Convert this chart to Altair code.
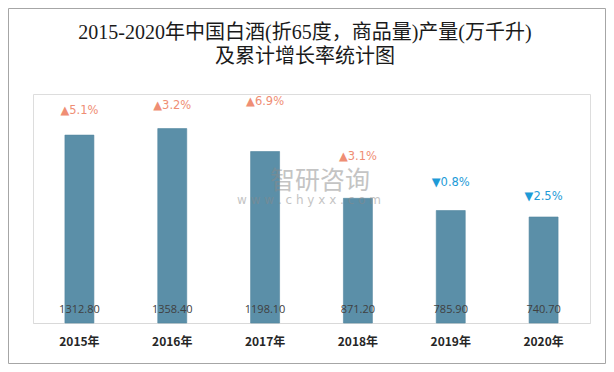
import altair as alt
import pandas as pd

years = ["2015年", "2016年", "2017年", "2018年", "2019年", "2020年"]
production = [1312.80, 1358.40, 1198.10, 871.20, 785.90, 740.70]
growth = [5.1, 3.2, 6.9, 3.1, -0.8, -2.5]
# height of the (hidden) helper series that carries the growth labels
label_y = [1480, 1517, 1543, 1161, 976, 878]
title_lines = ["2015-2020年中国白酒(折65度，商品量)产量(万千升)", "及累计增长率统计图"]

df = pd.DataFrame({
    "year": years,
    "prod": production,
    "growth": growth,
    "ly": label_y,
})
df["prod_label"] = [f"{v:.2f}" for v in production]
df["g_label"] = [("▲" if g > 0 else "▼") + f"{abs(g):.1f}%" for g in growth]
df["dir"] = ["up" if g > 0 else "down" for g in growth]

W, H = 557, 229
PL, PT, PR, PB = 25, 86, 16, 41

x = alt.X("year:N", sort=years, title=None,
          scale=alt.Scale(paddingInner=0, paddingOuter=0),
          axis=alt.Axis(labelAngle=0, ticks=False, domainColor="#d9d9d9",
                        labelFont="Noto Sans CJK SC", labelFontWeight="bold",
                        labelFontSize=12, labelColor="#262626", labelPadding=13))
yscale = alt.Scale(domain=[0, 1600])

base = alt.Chart(df)

bars = base.mark_bar(size=29, color="#5B8FA8", stroke="#5386A0",
                     strokeWidth=0.6).encode(
    x=x,
    y=alt.Y("prod:Q", scale=yscale, axis=None),
)

vals = base.mark_text(font="Open Sans", fontSize=11, color="#404040",
                      baseline="middle", dy=-13).encode(
    x=x,
    y=alt.Y("zero:Q", scale=yscale, axis=None),
    text="prod_label:N",
).transform_calculate(zero="0")

glabels = base.mark_text(font="DejaVu Sans", fontSize=11.5, baseline="middle").encode(
    x=x,
    y=alt.Y("ly:Q", scale=yscale, axis=None),
    text="g_label:N",
    color=alt.Color("dir:N", scale=alt.Scale(domain=["up", "down"],
                                             range=["#EF8E74", "#1E9BD7"]),
                    legend=None),
)

one = alt.Data(values=[{"a": 1}])

wm1 = alt.Chart(one).mark_text(text="智研咨询", font="Noto Sans CJK SC",
                               fontSize=25, color="#8a8a8a", opacity=0.5,
                               baseline="middle", align="left").encode(
    x=alt.value(237), y=alt.value(87))
wm2 = alt.Chart(one).mark_text(text="w w w . c h y x x . c o m", font="DejaVu Sans",
                               fontSize=12, color="#8a8a8a", opacity=0.5,
                               baseline="middle", align="left").encode(
    x=alt.value(204), y=alt.value(106))

t1 = alt.Chart(one).mark_text(text=title_lines[0],
                              font="Liberation Serif, Noto Sans CJK SC",
                              fontSize=20, color="#1a1a1a",
                              baseline="middle", align="center").encode(
    x=alt.value(272), y=alt.value(-61))
t2 = alt.Chart(one).mark_text(text=title_lines[1],
                              font="Liberation Serif, Noto Sans CJK SC",
                              fontSize=20, color="#1a1a1a",
                              baseline="middle", align="center").encode(
    x=alt.value(272), y=alt.value(-37))

border = alt.Chart(one).mark_rect(fill=None, stroke="#a6a6a6", strokeWidth=1).encode(
    x=alt.value(-PL + 0.5), x2=alt.value(W + PR - 0.5),
    y=alt.value(-PT + 0.5), y2=alt.value(H + PB - 0.5))

chart = alt.layer(border, t1, t2, bars, wm1, wm2, vals, glabels).properties(
    width=W, height=H,
    padding={"left": PL, "top": PT, "right": PR, "bottom": PB},
    autosize=alt.AutoSizeParams(type="none"),
).configure_view(strokeWidth=0, stroke="transparent").configure(background="white")

chart.save("out.html", embed_options={"renderer": "svg", "actions": False})
